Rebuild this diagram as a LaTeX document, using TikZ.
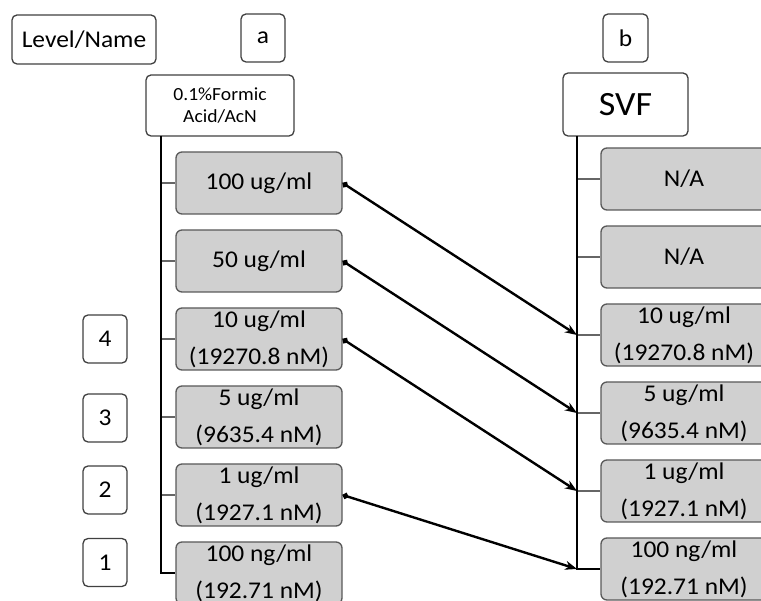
\documentclass[tikz,border=0pt]{standalone}
\usepackage{fontspec}
\setmainfont{Carlito}[FakeStretch=1.06]
\usetikzlibrary{arrows.meta}
\definecolor{boxgray}{RGB}{208,208,208}
\begin{document}
\begin{tikzpicture}[x=1pt,y=-1pt,
  hdr/.style={draw=black!75, line width=1.3pt, rounded corners=5pt, fill=white, inner sep=0pt, font=\fontsize{24}{28}\selectfont},
  conc/.style={draw=black!65, line width=1.3pt, rounded corners=6pt, fill=boxgray, inner sep=0pt, minimum width=166pt, minimum height=62pt, align=center, font=\fontsize{24}{37}\selectfont},
  trunk/.style={line width=1.4pt, black},
  twig/.style={line width=1.2pt, black!60},
  link/.style={line width=2.4pt, {Circle[length=6pt]}-{Stealth[length=12pt,width=9pt]}}]
\useasboundingbox (0,0) rectangle (761,601);
% headers
\node[hdr, minimum width=144pt, minimum height=49pt] (lvl) at (84,39.5) {Level/Name};
\node[hdr, minimum width=44pt, minimum height=48pt] (ha) at (263,38) {a};
\node[hdr, minimum width=45pt, minimum height=48pt] (hb) at (625.5,38) {b};
\node[hdr, minimum width=148pt, minimum height=61pt, align=center, font=\fontsize{18.5}{22}\selectfont] (fa) at (220,105.5) {0.1\%Formic\\Acid/AcN};
\node[hdr, minimum width=125pt, minimum height=63pt, font=\fontsize{34}{40}\selectfont] (svf) at (625.5,104.5) {SVF};
% level boxes
\node[hdr, minimum width=44pt, minimum height=48pt] (n4) at (105,339) {4};
\node[hdr, minimum width=44pt, minimum height=48pt] (n3) at (105,418) {3};
\node[hdr, minimum width=44pt, minimum height=48pt] (n2) at (105,490) {2};
\node[hdr, minimum width=44pt, minimum height=48pt] (n1) at (105,562.5) {1};
% left column
\node[conc] (L1) at (259,183) {100 ug/ml};
\node[conc] (L2) at (259,261) {50 ug/ml};
\node[conc] (L3) at (259,339) {10 ug/ml\\(19270.8 nM)};
\node[conc] (L4) at (259,417) {5 ug/ml\\(9635.4 nM)};
\node[conc] (L5) at (259,495) {1 ug/ml\\(1927.1 nM)};
\node[conc] (L6) at (259,573) {100 ng/ml\\(192.71 nM)};
% right column
\node[conc] (R1) at (684,179) {N/A};
\node[conc] (R2) at (684,257) {N/A};
\node[conc] (R3) at (684,335) {10 ug/ml\\(19270.8 nM)};
\node[conc] (R4) at (684,413) {5 ug/ml\\(9635.4 nM)};
\node[conc] (R5) at (684,491) {1 ug/ml\\(1927.1 nM)};
\node[conc] (R6) at (684,569) {100 ng/ml\\(192.71 nM)};
% trees
\coordinate (ta) at (161,136);
\coordinate (tb) at (577,136);
\foreach \i in {1,...,5} {
  \draw[twig] (ta |- L\i.west) -- (L\i.west);
  \draw[twig] (tb |- R\i.west) -- (R\i.west);
}
\draw[trunk] (ta) |- (L6.west);
\draw[trunk] (tb) |- (R6.west);
% links
\draw[link] (L1.east) -- (tb |- R3.west);
\draw[link] (L2.east) -- (tb |- R4.west);
\draw[link] (L3.east) -- (tb |- R5.west);
\draw[link] (L5.east) -- (tb |- R6.west);
\end{tikzpicture}
\end{document}
